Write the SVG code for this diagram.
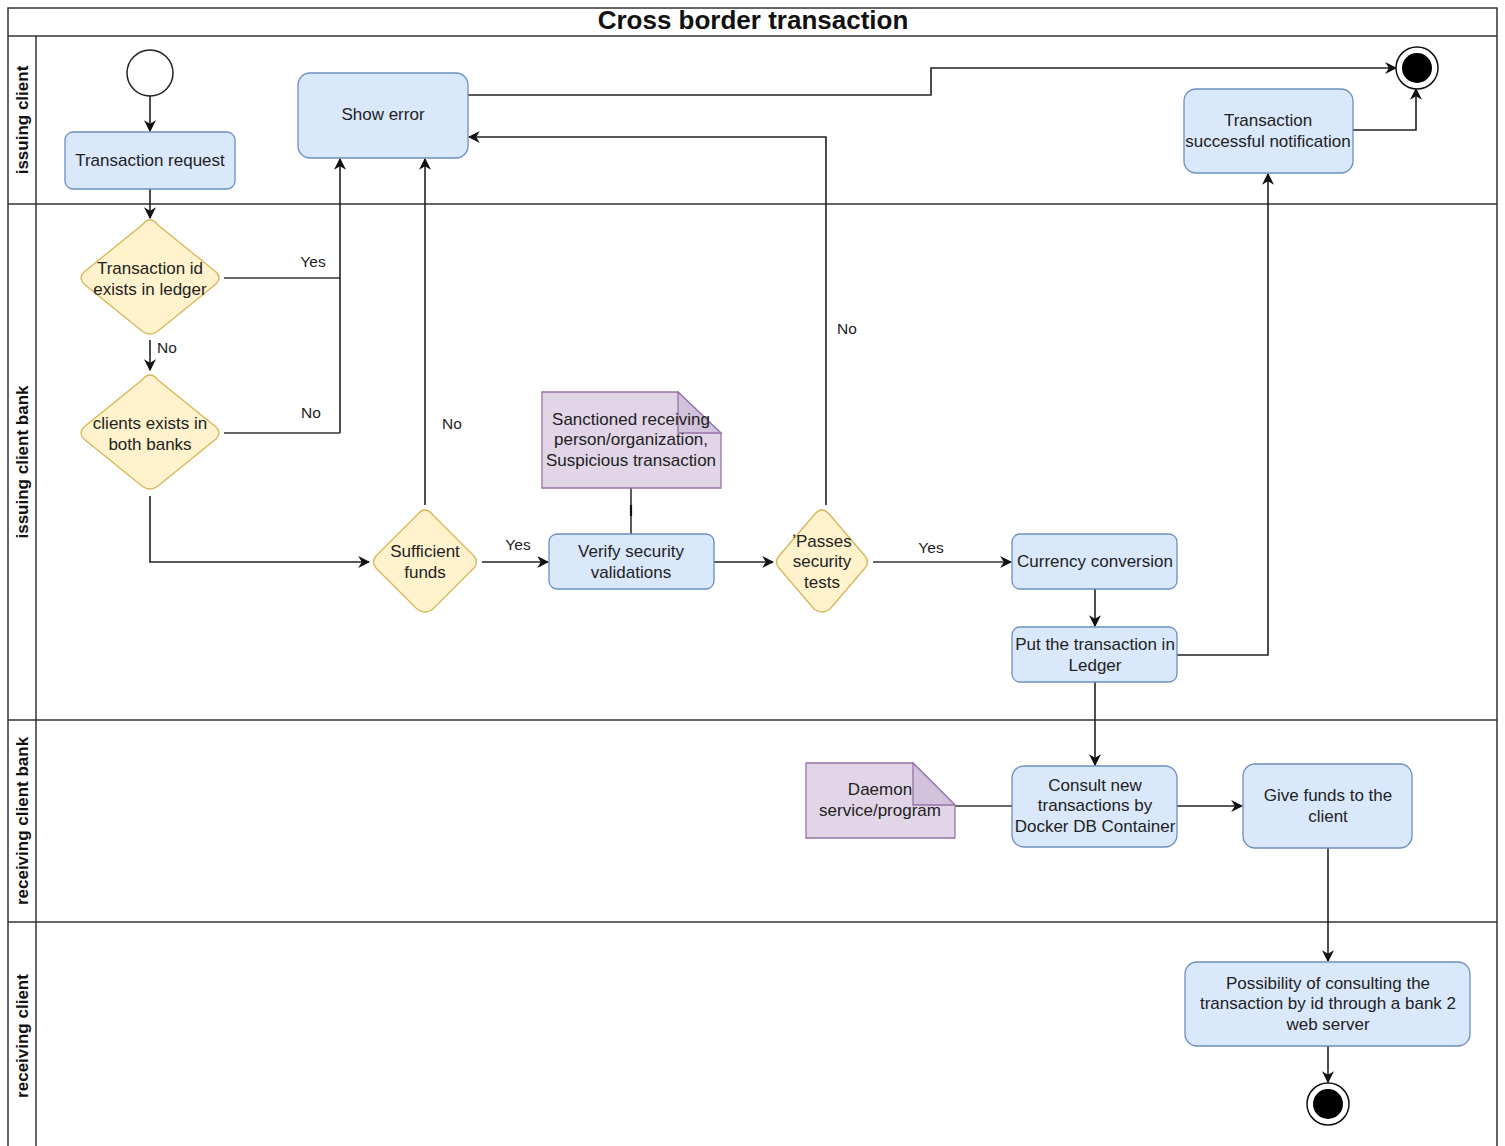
<svg xmlns="http://www.w3.org/2000/svg" width="1505" height="1146" viewBox="0 0 1505 1146">
  <style>
    text { font-family: "Liberation Sans", Arial, sans-serif; fill: #222; }
    .t { font-size: 17px; text-anchor: middle; }
    .lbl { font-size: 15.5px; text-anchor: middle; }
    .lane { font-size: 17px; font-weight: bold; text-anchor: middle; fill: #111; }
    .title { font-size: 26px; font-weight: bold; text-anchor: middle; fill: #111; }
    .frame { fill: none; stroke: #333; stroke-width: 1.5; }
    .act { fill: #dae8fc; stroke: #6c8ebf; stroke-width: 1.3; }
    .dec { fill: #fff2cc; stroke: #d6b656; stroke-width: 1.3; }
    .note { fill: #e1d5e7; stroke: #9673a6; stroke-width: 1.3; }
    .fold { fill: #d3c2dc; stroke: #9673a6; stroke-width: 1.3; }
    .edge { fill: none; stroke: #222; stroke-width: 1.6; }
    .link { fill: none; stroke: #333; stroke-width: 1.6; }
  </style>
  <defs>
    <marker id="arrow" viewBox="0 0 10 10" refX="9" refY="5" markerWidth="12" markerHeight="12" orient="auto" markerUnits="userSpaceOnUse">
      <path d="M0,0 L10,5 L0,10 L3,5 z" fill="#111"/>
    </marker>
  </defs>

  <rect width="1505" height="1146" fill="#fff"/>

  <!-- pool and swimlanes -->
  <g id="pool">
    <path class="frame" d="M8,1146 V8 H1497 V1146"/>
    <line class="frame" x1="8" y1="36" x2="1497" y2="36"/>
    <line class="frame" x1="36" y1="36" x2="36" y2="1146"/>
    <line class="frame" x1="8" y1="204" x2="1497" y2="204"/>
    <line class="frame" x1="8" y1="720" x2="1497" y2="720"/>
    <line class="frame" x1="8" y1="922" x2="1497" y2="922"/>
    <text class="title" x="753" y="29">Cross border transaction</text>
    <text class="lane" transform="translate(28,120) rotate(-90)">issuing client</text>
    <text class="lane" transform="translate(28,462) rotate(-90)">issuing client bank</text>
    <text class="lane" transform="translate(28,821) rotate(-90)">receiving client bank</text>
    <text class="lane" transform="translate(28,1036) rotate(-90)">receiving client</text>
  </g>

  <!-- connectors -->
  <g id="connectors">
    <path class="edge" d="M150,96 V131" marker-end="url(#arrow)"/>
    <path class="edge" d="M150,189 V218" marker-end="url(#arrow)"/>
    <path class="link" d="M224,278 H340"/>
    <path class="edge" d="M340,433 V159" marker-end="url(#arrow)"/>
    <path class="link" d="M224,433 H340"/>
    <path class="edge" d="M150,340 V370" marker-end="url(#arrow)"/>
    <path class="edge" d="M150,496 V562 H369" marker-end="url(#arrow)"/>
    <path class="edge" d="M425,505 V159" marker-end="url(#arrow)"/>
    <path class="edge" d="M482,562 H548" marker-end="url(#arrow)"/>
    <path class="link" d="M631,488 V534"/>
    <line x1="631" y1="505" x2="631" y2="516" stroke="#111" stroke-width="2.2"/>
    <path class="edge" d="M714,562 H773" marker-end="url(#arrow)"/>
    <path class="edge" d="M826,505 V137 H469" marker-end="url(#arrow)"/>
    <path class="link" d="M873,562 H1011" marker-end="url(#arrow)"/>
    <path class="edge" d="M1095,589 V626" marker-end="url(#arrow)"/>
    <path class="edge" d="M1177,655 H1268 V174" marker-end="url(#arrow)"/>
    <path class="edge" d="M1353,130 H1416 V89" marker-end="url(#arrow)"/>
    <path class="edge" d="M468,95 H931 V68 H1396" marker-end="url(#arrow)"/>
    <path class="edge" d="M1095,682 V765" marker-end="url(#arrow)"/>
    <path class="link" d="M955,806 H1012"/>
    <path class="edge" d="M1177,806 H1242" marker-end="url(#arrow)"/>
    <path class="edge" d="M1328,848 V961" marker-end="url(#arrow)"/>
    <path class="edge" d="M1328,1046 V1082" marker-end="url(#arrow)"/>

    <text class="lbl" x="313" y="267">Yes</text>
    <text class="lbl" x="167" y="353">No</text>
    <text class="lbl" x="311" y="418">No</text>
    <text class="lbl" x="452" y="429">No</text>
    <text class="lbl" x="518" y="550">Yes</text>
    <text class="lbl" x="847" y="334">No</text>
    <text class="lbl" x="931" y="553">Yes</text>
  </g>

  <!-- nodes -->
  <g id="start">
    <circle cx="150" cy="73" r="23" fill="#fff" stroke="#222" stroke-width="1.5"/>
  </g>

  <g id="transaction-request">
    <rect class="act" x="65" y="132" width="170" height="57" rx="8"/>
    <text class="t" x="150" y="166">Transaction request</text>
  </g>

  <g id="show-error">
    <rect class="act" x="298" y="73" width="170" height="85" rx="12"/>
    <text class="t" x="383" y="120">Show error</text>
  </g>

  <g id="end-top">
    <circle cx="1417" cy="68" r="21" fill="#fff" stroke="#111" stroke-width="1.5"/>
    <circle cx="1417" cy="68" r="15" fill="#000"/>
  </g>

  <g id="success-notification">
    <rect class="act" x="1184" y="89" width="169" height="84" rx="12"/>
    <text class="t" x="1268" y="126">Transaction</text>
    <text class="t" x="1268" y="147">successful notification</text>
  </g>

  <g id="txid-exists">
    <path class="dec" d="M150,220 Q154,220 158,225 L216,272 Q222,278 216,284 L158,331 Q150,337 142,331 L84,284 Q78,278 84,272 L142,225 Q146,220 150,220 z"/>
    <text class="t" x="150" y="274">Transaction id</text>
    <text class="t" x="150" y="295">exists in ledger</text>
  </g>

  <g id="clients-exist">
    <path class="dec" d="M150,375 Q154,375 158,380 L216,427 Q222,433 216,439 L158,486 Q150,492 142,486 L84,439 Q78,433 84,427 L142,380 Q146,375 150,375 z"/>
    <text class="t" x="150" y="429">clients exists in</text>
    <text class="t" x="150" y="450">both banks</text>
  </g>

  <g id="sufficient-funds">
    <path class="dec" d="M425,510 Q429,510 433,515 L474,556 Q479,562 474,568 L433,609 Q425,615 417,609 L376,568 Q371,562 376,556 L417,515 Q421,510 425,510 z"/>
    <text class="t" x="425" y="557">Sufficient</text>
    <text class="t" x="425" y="578">funds</text>
  </g>

  <g id="sanction-note">
    <path class="note" d="M542,392 H678 L721,433 V488 H542 z"/>
    <path class="fold" d="M678,392 V433 H721 z"/>
    <text class="t" x="631" y="425">Sanctioned receiving</text>
    <text class="t" x="631" y="445">person/organization,</text>
    <text class="t" x="631" y="466">Suspicious transaction</text>
  </g>

  <g id="verify-security">
    <rect class="act" x="549" y="534" width="165" height="55" rx="8"/>
    <text class="t" x="631" y="557">Verify security</text>
    <text class="t" x="631" y="578">validations</text>
  </g>

  <g id="passes-security">
    <path class="dec" d="M822,510 Q826,510 830,515 L865,556 Q870,562 865,568 L830,609 Q822,615 814,609 L779,568 Q774,562 779,556 L814,515 Q818,510 822,510 z"/>
    <text class="t" x="822" y="547">ʼPasses</text>
    <text class="t" x="822" y="567">security</text>
    <text class="t" x="822" y="588">tests</text>
  </g>

  <g id="currency-conversion">
    <rect class="act" x="1012" y="534" width="165" height="55" rx="8"/>
    <text class="t" x="1095" y="567">Currency conversion</text>
  </g>

  <g id="ledger-entry">
    <rect class="act" x="1012" y="627" width="165" height="55" rx="8"/>
    <text class="t" x="1095" y="650">Put the transaction in</text>
    <text class="t" x="1095" y="671">Ledger</text>
  </g>

  <g id="daemon-note">
    <path class="note" d="M806,763 H913 L955,805 V838 H806 z"/>
    <path class="fold" d="M913,763 V805 H955 z"/>
    <text class="t" x="880" y="795">Daemon</text>
    <text class="t" x="880" y="816">service/program</text>
  </g>

  <g id="consult-transactions">
    <rect class="act" x="1012" y="766" width="165" height="81" rx="12"/>
    <text class="t" x="1095" y="791">Consult new</text>
    <text class="t" x="1095" y="811">transactions by</text>
    <text class="t" x="1095" y="832">Docker DB Container</text>
  </g>

  <g id="give-funds">
    <rect class="act" x="1243" y="764" width="169" height="84" rx="12"/>
    <text class="t" x="1328" y="801">Give funds to the</text>
    <text class="t" x="1328" y="822">client</text>
  </g>

  <g id="consult-by-id">
    <rect class="act" x="1185" y="962" width="285" height="84" rx="12"/>
    <text class="t" x="1328" y="989">Possibility of consulting the</text>
    <text class="t" x="1328" y="1009">transaction by id through a bank 2</text>
    <text class="t" x="1328" y="1030">web server</text>
  </g>

  <g id="end-bottom">
    <circle cx="1328" cy="1104" r="21" fill="#fff" stroke="#111" stroke-width="1.5"/>
    <circle cx="1328" cy="1104" r="15" fill="#000"/>
  </g>
</svg>
